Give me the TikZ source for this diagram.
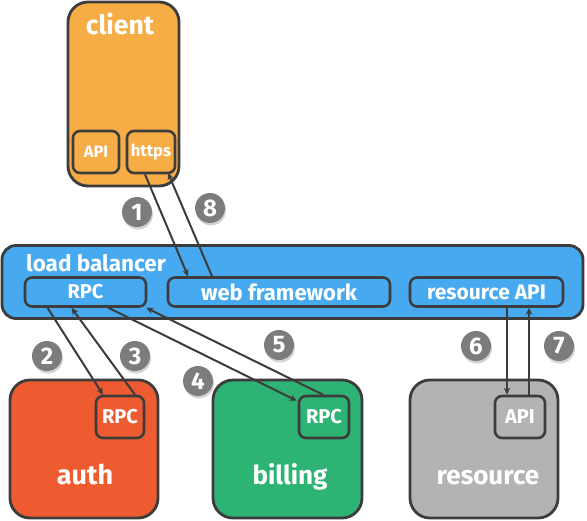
\documentclass[tikz,border=0pt]{standalone}
\usepackage{fontspec}
\setmainfont{Fira Sans}
\usetikzlibrary{arrows.meta,shadows,calc}
\definecolor{cOrange}{HTML}{F7AD46}
\definecolor{cBlue}{HTML}{47A9EF}
\definecolor{cRed}{HTML}{EE5B30}
\definecolor{cGreen}{HTML}{2DB474}
\definecolor{cGray}{HTML}{B3B3B3}
\definecolor{cLine}{HTML}{3C3C3C}
\definecolor{cNum}{HTML}{7C7C7C}
\begin{document}
\begin{tikzpicture}[x=1pt,y=-1pt,
  box/.style={draw=cLine,line width=2.8pt,rounded corners=#1,inner sep=0pt},
  box/.default=20pt,
  sub/.style={draw=cLine,line width=2.6pt,rounded corners=7pt,inner sep=0pt,text=white,font=\bfseries},
  lbl/.style={text=white,font=\bfseries,inner sep=0pt,anchor=base},
  num/.style={circle,fill=cNum,text=white,font=\bfseries\fontsize{24}{24}\selectfont,minimum size=30pt,inner sep=0pt,
    drop shadow={opacity=0.35,shadow xshift=1pt,shadow yshift=-2.5pt}},
  conn/.style={draw=cLine,line width=2pt,-{Stealth[length=7pt,width=6.5pt]}}]
\useasboundingbox (0,0) rectangle (587,520);
% client
\node[box,fill=cOrange,minimum width=111pt,minimum height=184pt] (client) at (123.5,94) {};
\node[lbl,font=\bfseries\fontsize{26.5}{26}\selectfont] (clientlbl) at (120,34) {client};
\node[sub,fill=cOrange,minimum width=46pt,minimum height=42pt,font=\bfseries\fontsize{16.5}{16}\selectfont] (capi) at (96,152) {API};
\node[sub,fill=cOrange,minimum width=48pt,minimum height=42pt,font=\bfseries\fontsize{16.5}{16}\selectfont] (https) at (151,152) {https};
% load balancer
\node[box=14pt,fill=cBlue,minimum width=581pt,minimum height=73pt] (lb) at (292.5,282) {};
\node[lbl,anchor=base west,font=\bfseries\fontsize{22.5}{22}\selectfont] (lblbl) at (26,271) {load balancer};
\node[sub,fill=cBlue,minimum width=121pt,minimum height=29pt,font=\bfseries\fontsize{20}{20}\selectfont] (rpc) at (85.5,292) {RPC};
\node[sub,fill=cBlue,minimum width=222pt,minimum height=29pt,font=\bfseries\fontsize{22}{22}\selectfont] (web) at (279,292) {web framework};
\node[sub,fill=cBlue,minimum width=153pt,minimum height=29pt,font=\bfseries\fontsize{21}{21}\selectfont] (resapi) at (486.5,292) {resource API};
% auth
\node[box,fill=cRed,minimum width=148pt,minimum height=138pt] (auth) at (84,449) {};
\node[lbl,font=\bfseries\fontsize{27}{27}\selectfont] (authlbl) at (85,484) {auth};
\node[sub,fill=cRed,minimum width=48pt,minimum height=42pt,font=\bfseries\fontsize{20}{20}\selectfont] (authrpc) at (120,417) {RPC};
% billing
\node[box,fill=cGreen,minimum width=149pt,minimum height=138pt] (bill) at (287.5,449) {};
\node[lbl,font=\bfseries\fontsize{26}{26}\selectfont] (billlbl) at (290,484) {billing};
\node[sub,fill=cGreen,minimum width=50pt,minimum height=42pt,font=\bfseries\fontsize{20}{20}\selectfont] (billrpc) at (324,417) {RPC};
% resource
\node[box,fill=cGray,minimum width=148pt,minimum height=138pt] (res) at (484,449) {};
\node[lbl,font=\bfseries\fontsize{26}{26}\selectfont] (reslbl) at (488,484) {resource};
\node[sub,fill=cGray,minimum width=50pt,minimum height=42pt,font=\bfseries\fontsize{20}{20}\selectfont] (resapibox) at (520,417) {API};
% connectors
\draw[conn] ([xshift=-6pt]https.south) -- ([xshift=-91pt]web.north);
\draw[conn] ([xshift=-67pt]web.north) -- ([xshift=17pt,yshift=1.5pt]https.south);
\draw[conn] ([xshift=-38pt]rpc.south) -- ([xshift=-17pt]authrpc.north);
\draw[conn] ([xshift=15pt]authrpc.north) -- ([xshift=-14pt]rpc.south);
\draw[conn] ([xshift=23pt]rpc.south) -- ([xshift=-1pt,yshift=-6pt]billrpc.north west);
\draw[conn] ([xshift=-1pt]billrpc.north) -- ([xshift=-1pt]rpc.south east);
\coordinate (c6) at ([xshift=20.5pt]resapi.south);
\coordinate (c7) at ([xshift=9pt]resapibox.north);
\draw[conn] (c6) -- (c6 |- resapibox.north);
\draw[conn] (c7) -- (c7 |- resapi.south);
% numbers
\node[num] (n1) at (137,212) {1};
\node[num] (n8) at (210,208) {8};
\node[num] (n2) at (47,356) {2};
\node[num] (n3) at (135,356) {3};
\node[num] (n4) at (198,381) {4};
\node[num] (n5) at (279,345) {5};
\node[num] (n6) at (476,346) {6};
\node[num] (n7) at (559,346) {7};
\end{tikzpicture}
\end{document}
